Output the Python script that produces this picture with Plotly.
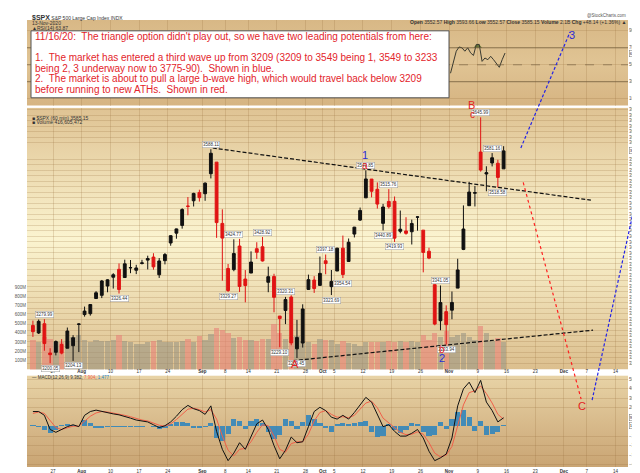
import base64
import pandas as pd
import plotly.graph_objects as go

# ---- daily SPX data (60-min chart, summarised per day)
dates = ['2020-07-21', '2020-07-22', '2020-07-23', '2020-07-24',
         '2020-07-27', '2020-07-28', '2020-07-29', '2020-07-30', '2020-07-31',
         '2020-08-03', '2020-08-04', '2020-08-05', '2020-08-06', '2020-08-07',
         '2020-08-10', '2020-08-11', '2020-08-12', '2020-08-13', '2020-08-14',
         '2020-08-17', '2020-08-18', '2020-08-19', '2020-08-20', '2020-08-21',
         '2020-08-24', '2020-08-25', '2020-08-26', '2020-08-27', '2020-08-28',
         '2020-08-31', '2020-09-01', '2020-09-02', '2020-09-03', '2020-09-04',
         '2020-09-08', '2020-09-09', '2020-09-10', '2020-09-11',
         '2020-09-14', '2020-09-15', '2020-09-16', '2020-09-17', '2020-09-18',
         '2020-09-21', '2020-09-22', '2020-09-23', '2020-09-24', '2020-09-25',
         '2020-09-28', '2020-09-29', '2020-09-30', '2020-10-01', '2020-10-02',
         '2020-10-05', '2020-10-06', '2020-10-07', '2020-10-08', '2020-10-09',
         '2020-10-12', '2020-10-13', '2020-10-14', '2020-10-15', '2020-10-16',
         '2020-10-19', '2020-10-20', '2020-10-21', '2020-10-22', '2020-10-23',
         '2020-10-26', '2020-10-27', '2020-10-28', '2020-10-29', '2020-10-30',
         '2020-11-02', '2020-11-03', '2020-11-04', '2020-11-05', '2020-11-06',
         '2020-11-09', '2020-11-10', '2020-11-11', '2020-11-12', '2020-11-13']
opens = [3268.52, 3254.86, 3271.64, 3218.58,
         3219.84, 3234.27, 3227.22, 3231.76, 3270.45,
         3288.26, 3289.92, 3317.37, 3323.17, 3340.05,
         3356.04, 3370.34, 3355.46, 3372.95, 3368.66,
         3380.86, 3387.04, 3392.51, 3360.48, 3386.01,
         3418.09, 3435.95, 3449.97, 3485.14, 3494.69,
         3509.73, 3507.44, 3543.76, 3564.74, 3453.60,
         3371.88, 3369.82, 3412.56, 3352.70,
         3363.56, 3407.73, 3411.23, 3346.86, 3357.38,
         3285.57, 3295.75, 3320.11, 3226.14, 3236.66,
         3333.90, 3350.92, 3341.21, 3385.87, 3338.94,
         3367.27, 3408.74, 3384.56, 3434.28, 3459.67,
         3500.02, 3534.01, 3515.47, 3453.72, 3493.50,
         3493.66, 3439.38, 3439.91, 3438.50, 3464.90,
         3441.42, 3403.15, 3342.48, 3277.17, 3293.59,
         3296.20, 3336.25, 3406.46, 3485.74, 3508.34,
         3583.04, 3543.26, 3563.22, 3562.67, 3552.57]
highs = [3277.29, 3279.32, 3279.99, 3227.26,
         3241.43, 3243.72, 3264.74, 3250.92, 3272.17,
         3302.73, 3306.84, 3330.77, 3351.03, 3352.54,
         3363.29, 3381.01, 3387.89, 3387.24, 3378.51,
         3387.59, 3395.06, 3399.54, 3390.80, 3399.96,
         3432.09, 3444.21, 3481.07, 3501.38, 3509.23,
         3514.77, 3528.03, 3588.11, 3564.85, 3479.15,
         3379.97, 3424.77, 3425.55, 3368.95,
         3402.93, 3419.48, 3428.92, 3375.17, 3362.27,
         3285.57, 3320.31, 3323.35, 3278.70, 3306.88,
         3360.74, 3357.92, 3393.56, 3397.18, 3369.10,
         3409.57, 3431.56, 3426.26, 3447.28, 3482.34,
         3549.85, 3534.01, 3527.94, 3489.08, 3515.76,
         3502.42, 3476.93, 3464.86, 3460.53, 3466.46,
         3441.42, 3409.51, 3342.48, 3341.05, 3304.93,
         3330.14, 3389.49, 3486.25, 3529.05, 3521.58,
         3645.99, 3557.22, 3581.16, 3569.02, 3593.66]
lows = [3247.77, 3253.10, 3222.66, 3200.05,
        3214.25, 3216.17, 3227.22, 3204.13, 3220.26,
        3284.53, 3286.37, 3317.37, 3318.14, 3328.72,
        3335.44, 3326.44, 3355.46, 3363.35, 3361.64,
        3379.22, 3370.15, 3369.66, 3354.69, 3379.31,
        3413.13, 3425.84, 3444.15, 3468.35, 3484.32,
        3493.25, 3494.60, 3535.23, 3427.41, 3349.63,
        3329.27, 3366.84, 3329.25, 3310.47,
        3363.56, 3389.25, 3384.45, 3328.82, 3292.40,
        3229.10, 3270.95, 3232.57, 3209.45, 3228.44,
        3332.91, 3327.54, 3340.47, 3361.39, 3323.69,
        3367.27, 3354.54, 3384.56, 3428.15, 3458.07,
        3499.61, 3500.86, 3480.55, 3440.89, 3480.45,
        3419.93, 3435.65, 3433.06, 3415.34, 3440.45,
        3364.86, 3388.71, 3268.89, 3259.82, 3233.94,
        3279.74, 3336.25, 3405.17, 3485.74, 3484.34,
        3547.48, 3511.91, 3557.00, 3518.58, 3552.57]
closes = [3257.30, 3276.02, 3235.66, 3215.63,
          3239.41, 3218.44, 3258.44, 3246.22, 3271.12,
          3294.61, 3306.51, 3327.77, 3349.16, 3351.28,
          3360.47, 3333.69, 3380.35, 3373.43, 3372.85,
          3381.99, 3389.78, 3374.85, 3385.51, 3397.16,
          3431.28, 3443.62, 3478.73, 3484.55, 3508.01,
          3500.31, 3526.65, 3580.84, 3455.06, 3426.96,
          3331.84, 3398.96, 3339.19, 3340.97,
          3383.54, 3401.20, 3385.49, 3357.01, 3319.47,
          3281.06, 3315.57, 3236.92, 3246.59, 3298.46,
          3351.60, 3335.47, 3363.00, 3380.80, 3348.42,
          3408.63, 3360.97, 3419.44, 3446.83, 3477.14,
          3534.22, 3511.93, 3488.67, 3483.34, 3483.81,
          3426.92, 3443.12, 3435.56, 3453.49, 3465.39,
          3400.97, 3390.68, 3271.03, 3310.11, 3269.96,
          3310.24, 3369.16, 3443.44, 3510.45, 3509.44,
          3550.50, 3545.53, 3572.66, 3537.01, 3585.15]
# average hourly volume, millions
volume = [330, 300, 360, 340,
          300, 310, 320, 360, 380,
          330, 310, 330, 320, 320, 330, 380, 320, 300, 280,
          280, 300, 320, 330, 300, 310, 300, 320, 340, 310, 370,
          330, 390, 460, 440, 400, 350, 360, 330, 330, 320, 340, 340, 500,
          400, 340, 360, 370, 320, 300, 280, 340,
          330, 330, 280, 320, 290, 280, 260, 310, 300, 310, 300, 320,
          310, 320, 310, 320, 300, 380, 330, 400, 360, 420,
          360, 380, 400, 360, 330, 480, 400, 320, 350, 300]
macd = [16, 16, 12, -3, -6, -3, 0, 2, 0,
        12, 16, 17.5, 16, 14.5, 13.5, 12.5, 11, 9, 7,
        6, 5, 2, -1, 1, 5, 11, 18, 22.5, 19,
        17, 13, 22, -5, -24, -36, -28, -17, -24, -10,
        3, 7, -3, -20, -34, -25, -11, -17, -16, 0,
        16, 20.5, 17, 10, 8, 12, 8, 15, 23, 31,
        26, 12, 0, 2, -5, -10, -10, -7, -3, -12,
        -26, -36, -33, -29, -12, 22, 40, 47, 36, 49,
        26, 17, 5, 9.382]
signal = [14, 15.5, 14, 6, -1, -3, -1.5, 0.5, 0.5,
          6, 11, 14.5, 16, 15.5, 14.5, 13.5, 12, 10.5, 8.5,
          7, 6, 4, 1.5, 0.5, 3, 7.5, 13, 18.5, 19.5,
          18, 15.5, 18, 8, -10, -25, -31, -24, -23, -16,
          -6, 2, 1, -10, -24, -27, -18, -16, -16, -8,
          6, 15, 17, 13, 10, 10.5, 9.5, 12, 18, 25,
          27, 20, 9, 4, -1, -6, -8.5, -8, -5.5, -8,
          -17, -28, -32, -30, -21, 2, 23, 36, 38, 43,
          35, 25, 13, 7.904]
hist = [1.5, -1, -4, -7, -4, 1, 2, 1, 0,
        7, 3, -2, -2, -1, -1, -1, -0.5, -0.5, -0.5,
        -1, 0, -1, -3, -2, 2, 4, 4, 3, -2,
        -2, -1, 3, -12, -16, -8, 8, 5, -3, 5,
        8, 3, -6, -13, -9, 8, 5, -3, 4, 12,
        8, 3, -2, -6, 2, 3, 2, 3, 4, 6,
        -6, -11, -10, 2, -4, -7, -4, 3, 2, -6,
        -10, -9, 4, -3, 8, 15, 17, 10, -5, 6,
        -9, -8, -6, 1.477]
# RSI(14), morning / afternoon readings, 2 Nov - 13 Nov
rsi_dates = dates[-10:]
rsi_am = [40, 66, 70, 70, 61, 74, 58, 60, 52, 56]
rsi_pm = [55, 71, 66, 64, 74, 54, 56, 56, 47, 63.87]

# high / low value tags shown on the chart
tags = [('2020-07-23', 3279.99, 1), ('2020-07-24', 3200.05, -1), ('2020-07-30', 3204.13, -1),
        ('2020-08-11', 3326.44, -1), ('2020-09-02', 3588.11, 1), ('2020-09-08', 3329.27, -1),
        ('2020-09-09', 3424.77, 1), ('2020-09-16', 3428.92, 1), ('2020-09-21', 3229.10, -1),
        ('2020-09-22', 3320.31, 1), ('2020-09-24', 3209.45, -1), ('2020-10-01', 3397.18, 1),
        ('2020-10-02', 3323.69, -1), ('2020-10-06', 3354.54, -1), ('2020-10-12', 3549.85, 1),
        ('2020-10-15', 3440.89, -1), ('2020-10-16', 3515.76, 1), ('2020-10-19', 3419.93, -1),
        ('2020-10-29', 3341.05, 1), ('2020-10-30', 3233.94, -1), ('2020-11-09', 3645.99, 1),
        ('2020-11-11', 3581.16, 1), ('2020-11-12', 3518.58, -1)]

# Elliott wave labels and drawn lines (time, price)
waves = [('1', '2020-10-12 08:00', 3592, '#2b2bd6'), ('a', '2020-10-12 08:00', 3573, '#e32222'),
         ('B', '2020-11-06 22:00', 3683, '#e32222'), ('c', '2020-11-06 22:00', 3665, '#e32222'),
         ('A', '2020-09-24 05:00', 3184, '#e32222'), ('b', '2020-10-30 14:00', 3211, '#e32222'),
         ('2', '2020-10-30 14:00', 3195, '#2b2bd6'), ('3', '2020-12-03 07:00', 3810, '#2b2bd6'),
         ('C', '2020-12-07 05:00', 3108, '#e32222')]
upper_trend = [('2020-09-02 20:00', 3590.4), ('2020-12-07 17:00', 3495.7)]
lower_trend = [('2020-09-23 19:00', 3204.7), ('2020-12-08 02:00', 3260.0)]
blue_paths = [[('2020-11-18 12:00', 3590.4), ('2020-12-02 02:00', 3801.0)],
              [('2020-12-07 22:00', 3133.2), ('2020-12-18 23:00', 3563.6)]]
red_path = [('2020-11-18 22:00', 3528.0), ('2020-12-04 00:00', 3135.0)]

tick_dates = ['2020-07-27', '2020-08-03', '2020-08-10', '2020-08-17', '2020-08-24', '2020-09-01',
              '2020-09-08', '2020-09-14', '2020-09-21', '2020-09-28', '2020-10-01', '2020-10-05',
              '2020-10-12', '2020-10-19', '2020-10-26', '2020-11-02', '2020-11-09', '2020-11-16',
              '2020-11-23', '2020-12-01', '2020-12-07', '2020-12-14']
tick_text = ['27', '<b>Aug</b>', '10', '17', '24', '<b>Sep</b>', '8', '14', '21', '28', '<b>Oct</b>',
             '5', '12', '19', '26', '<b>Nov</b>', '9', '16', '23', '<b>Dec</b>', '7', '14']

note_lines = ["11/16/20:\u00a0 The triangle option didn't play out, so we have two leading potentials from here:",
              "1.\u00a0 The market has entered a third wave up from 3209 (3209 to 3549 being 1, 3549 to 3233",
              "being 2, 3 underway now to 3775-90).\u00a0 Shown in blue.",
              "2.\u00a0 The market is about to pull a large b-wave high, which would travel back below 3209",
              "before running to new ATHs.\u00a0 Shown in red."]
note_rows = [28.3, 50, 61, 71.7, 82.5]   # pixel rows of the note lines

# ---- trading-day axis (no weekends/holidays), 0 = 27 Jul
holidays = {'2020-09-07', '2020-11-26', '2020-12-25'}
cal = [d.strftime('%Y-%m-%d') for d in pd.bdate_range('2020-07-20', '2021-01-08')]
cal = [d for d in cal if d not in holidays]
day_of = {d: i - cal.index('2020-07-27') for i, d in enumerate(cal)}


def dx(s):
    t = pd.Timestamp(s)
    return day_of[t.strftime('%Y-%m-%d')] + (t.hour + t.minute / 60) / 24


xc = [dx(d) + 0.5 for d in dates]
tickx = [dx(d) for d in tick_dates]

# panel geometry (figure 640x473, plot area x 19..620, y 12..466)
def ydom(top_px, bot_px):
    return [(466 - bot_px) / 454, (466 - top_px) / 454]


def px_x(x):
    return (x - 19) / 601


def px_y(y):
    return (466 - y) / 454


RSI_DOM, PRICE_DOM, MACD_DOM = ydom(12, 99), ydom(101, 367), ydom(373, 466)
XR = [-4.53, 100.17]
PR = [3188.6, 3663.6]
VR = [0, 2860]
RR = [1.8, 102.8]
MCR = [-42.7, 54.2]


def to_paper(t, p):
    xp = (dx(t) - XR[0]) / (XR[1] - XR[0])
    yp = PRICE_DOM[0] + (p - PR[0]) / (PR[1] - PR[0]) * (PRICE_DOM[1] - PRICE_DOM[0])
    return xp, yp


def gradient(stops, dom):
    st = ''.join(f'<stop offset="{o}" stop-color="{c}"/>' for o, c in stops)
    svg = ('<svg xmlns="http://www.w3.org/2000/svg" width="10" height="100" viewBox="0 0 10 100" '
           'preserveAspectRatio="none"><defs><linearGradient id="g" x1="0" y1="0" x2="0" y2="1">'
           + st + '</linearGradient></defs><rect width="10" height="100" fill="url(#g)"/></svg>')
    src = 'data:image/svg+xml;base64,' + base64.b64encode(svg.encode()).decode()
    return dict(source=src, xref='paper', yref='paper', x=0, y=dom[1], sizex=1,
                sizey=dom[1] - dom[0], sizing='stretch', xanchor='left', yanchor='top', layer='below')


GRID = 'rgba(150,110,60,0.22)'
FONT = 'Liberation Sans, Arial, sans-serif'

fig = go.Figure()

vol_colors = ['rgba(150,145,130,0.55)' if c >= o else 'rgba(232,130,120,0.6)' for o, c in zip(opens, closes)]
fig.add_trace(go.Bar(x=xc, y=volume, marker=dict(color=vol_colors, line=dict(width=0)), width=0.92,
                     xaxis='x', yaxis='y', hoverinfo='skip'))
fig.add_trace(go.Candlestick(x=xc, open=opens, high=highs, low=lows, close=closes, xaxis='x', yaxis='y4',
                             whiskerwidth=0,
                             increasing=dict(line=dict(color='#111111', width=1), fillcolor='#111111'),
                             decreasing=dict(line=dict(color='#e01414', width=1), fillcolor='#e01414'),
                             hoverinfo='skip'))
for tl in (upper_trend, lower_trend):
    fig.add_trace(go.Scatter(x=[dx(t) for t, _ in tl], y=[p for _, p in tl], mode='lines', xaxis='x', yaxis='y4',
                             line=dict(color='#111111', width=1.2, dash='4px,2px'), hoverinfo='skip'))

# RSI
rx, ry = [], []
for d, a, b in zip(rsi_dates, rsi_am, rsi_pm):
    rx += [dx(d) + 0.25, dx(d) + 0.75]
    ry += [a, b]
fig.add_trace(go.Scatter(x=rx, y=[70] * len(rx), mode='lines', line=dict(width=0), xaxis='x2', yaxis='y2',
                         hoverinfo='skip'))
fig.add_trace(go.Scatter(x=rx, y=[max(v, 70) for v in ry], mode='lines', line=dict(width=0), fill='tonexty',
                         fillcolor='rgba(70,95,30,0.75)', xaxis='x2', yaxis='y2', hoverinfo='skip'))
fig.add_trace(go.Scatter(x=rx, y=ry, mode='lines', line=dict(color='#3a3a30', width=1), xaxis='x2', yaxis='y2',
                         hoverinfo='skip'))

# MACD
fig.add_trace(go.Bar(x=xc, y=hist, width=0.9, marker=dict(color='rgba(40,130,190,0.85)', line=dict(width=0)),
                     xaxis='x3', yaxis='y3', hoverinfo='skip'))
fig.add_trace(go.Scatter(x=xc, y=signal, mode='lines', line=dict(color='#f0604a', width=1), xaxis='x3', yaxis='y3',
                         hoverinfo='skip'))
fig.add_trace(go.Scatter(x=xc, y=macd, mode='lines', line=dict(color='#111111', width=1), xaxis='x3', yaxis='y3',
                         hoverinfo='skip'))

shapes = []
for lvl, dash, col in [(70, 'solid', 'rgba(110,90,60,0.7)'), (30, 'solid', 'rgba(110,90,60,0.7)'),
                       (50, 'dash', 'rgba(110,90,60,0.6)')]:
    shapes.append(dict(type='line', xref='paper', yref='y2', x0=0, x1=1, y0=lvl, y1=lvl,
                       line=dict(color=col, width=1, dash=dash)))
for path in blue_paths:
    (x0, y0), (x1, y1) = [to_paper(t, p) for t, p in path]
    shapes.append(dict(type='line', xref='paper', yref='paper', x0=x0, y0=y0, x1=x1, y1=y1,
                       line=dict(color='#2323e6', width=1.2, dash='3px,2px')))
(x0, y0), (x1, y1) = [to_paper(t, p) for t, p in red_path]
shapes.append(dict(type='line', xref='paper', yref='paper', x0=x0, y0=y0, x1=x1, y1=y1,
                   line=dict(color='#ff2020', width=1.2, dash='dot')))
# white note box
shapes.append(dict(type='rect', xref='paper', yref='paper', x0=px_x(23), x1=px_x(441), y0=px_y(91), y1=px_y(23),
                   fillcolor='white', line=dict(color='#555', width=1), layer='above'))

ann = []
for d, v, s in tags:
    ann.append(dict(x=dx(d) + 0.5, y=v, xref='x', yref='y4', text=f'{v:.2f}', showarrow=False,
                    yshift=5 * s, bgcolor='white', bordercolor='#9a9a9a', borderwidth=0.5, borderpad=0.5,
                    font=dict(size=4.5, color='#333')))
for txt, t, p, col in waves:
    xp, yp = to_paper(t, p)
    ann.append(dict(x=xp, y=yp, xref='paper', yref='paper', text=txt, showarrow=False,
                    font=dict(size=11 if txt in '123ABC' else 10, color=col, family=FONT)))
for line, row in zip(note_lines, note_rows):
    ann.append(dict(xref='paper', yref='paper', x=px_x(25), y=px_y(row), xanchor='left', yanchor='middle',
                    text=line, showarrow=False, font=dict(size=10, color='#e3242b', family=FONT)))
# header and panel captions
cap = dict(xref='paper', yref='paper', showarrow=False, xanchor='left', font=dict(size=5, color='#333'))
ann += [dict(cap, x=px_x(22), y=px_y(4), text='<b style="font-size:7px">$SPX</b> S&P 500 Large Cap Index INDX'),
        dict(cap, x=px_x(22), y=px_y(9.5), text='13-Nov-2020'),
        dict(cap, x=px_x(22), y=px_y(15.5), text='▲RSI(14) 63.87'),
        dict(cap, x=px_x(22), y=px_y(106), text='■ $SPX (60 min) 3585.15'),
        dict(cap, x=px_x(22), y=px_y(111), text='■ Volume 416,605,472'),
        dict(cap, x=px_x(22), y=px_y(379.5), font=dict(size=4.5, color='#333'),
             text='— MACD(12,26,9) 9.382, <span style="color:#f0604a">7.904</span>, '
                  '<span style="color:#2882be">1.477</span>'),
        dict(cap, x=1, xanchor='right', y=px_y(3), text='@StockCharts.com', font=dict(size=4.5, color='#555')),
        dict(cap, x=1, xanchor='right', y=px_y(8.5),
             text='<b>Open</b> 3552.57 <b>High</b> 3593.66 <b>Low</b> 3552.57 <b>Close</b> 3585.15 '
                  '<b>Volume</b> 2.1B <b>Chg</b> +48.14 (+1.36%) ▲')]
box = dict(xref='paper', x=px_x(621), xanchor='left', showarrow=False, bgcolor='white', bordercolor='#777',
           borderwidth=0.5, borderpad=0.3, font=dict(size=4.2, color='#222'))
ann += [dict(box, yref='y4', y=closes[-1], text=f'{closes[-1]:.2f}'),
        dict(box, yref='y2', y=rsi_pm[-1], text=f'{rsi_pm[-1]:.2f}'),
        dict(box, yref='y3', y=macd[-1], text=f'{macd[-1]:.3f}'),
        dict(box, yref='y3', y=hist[-1], text=f'{hist[-1]:.3f}')]

images = [gradient([(0, '#d8b886'), (0.5, '#e0c494'), (1, '#d6b482')], RSI_DOM),
          gradient([(0, '#dfc393'), (0.5, '#fbf4d0'), (1, '#dcbf8e')], PRICE_DOM),
          gradient([(0, '#e8d3a6'), (1, '#c9a473')], MACD_DOM)]

price_ticks = [v for v in range(3200, 3661, 10) if v not in (3580, 3590)]

xcommon = dict(range=XR, tickvals=tickx, ticktext=tick_text, showgrid=True, gridcolor=GRID, zeroline=False,
               ticks='', tickfont=dict(size=4.5, color='#333'), domain=[0, 1])
ycommon = dict(showgrid=True, gridcolor=GRID, zeroline=False, ticks='', tickfont=dict(size=4.5, color='#555'))

fig.update_layout(
    width=640, height=473, margin=dict(l=19, r=20, t=12, b=7),
    paper_bgcolor='white', plot_bgcolor='rgba(0,0,0,0)', showlegend=False,
    font=dict(family=FONT, size=5, color='#333'), bargap=0,
    xaxis=dict(xcommon, anchor='y', rangeslider=dict(visible=False)),
    xaxis2=dict(xcommon, anchor='y2', matches='x', showticklabels=False),
    xaxis3=dict(xcommon, anchor='y3', matches='x'),
    yaxis=dict(domain=PRICE_DOM, range=VR, side='left', tickvals=[100 * i for i in range(1, 10)],
               ticktext=[f'{100 * i}M' for i in range(1, 10)], showgrid=False, zeroline=False, ticks='',
               tickfont=dict(size=4.5, color='#555')),
    yaxis4=dict(ycommon, overlaying='y', anchor='x', side='right', range=PR, tickvals=price_ticks),
    yaxis2=dict(ycommon, domain=RSI_DOM, anchor='x2', side='right', range=RR, tickvals=[10, 30, 50, 70, 90]),
    yaxis3=dict(ycommon, domain=MACD_DOM, anchor='x3', side='right', range=MCR,
                tickvals=[-40, -30, -20, -10, 20, 30, 40, 50]),
    shapes=shapes, annotations=ann, images=images,
)
# pull the date labels of the price panel up into the thin strip
try:
    fig.update_layout(xaxis_ticklabelstandoff=-2)
except ValueError:
    pass

fig.write_html('out.html')
